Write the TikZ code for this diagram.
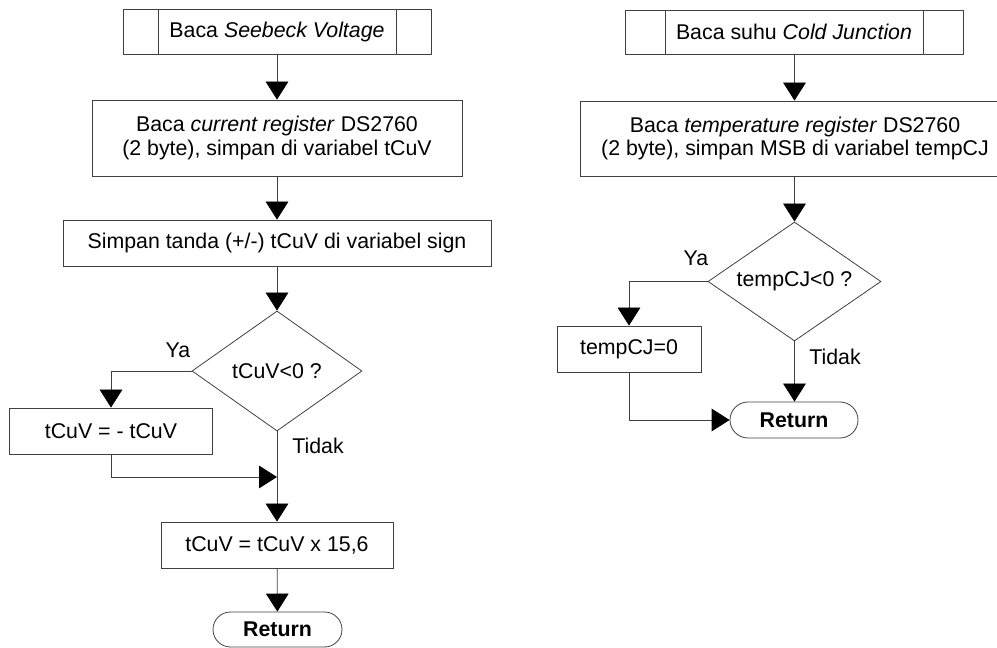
\documentclass[tikz,border=0pt]{standalone}
\usepackage{fontspec}
\setmainfont{Liberation Sans}
\usetikzlibrary{shapes.geometric,shapes.misc,arrows.meta,calc}
\begin{document}
\begin{tikzpicture}[x=0.75pt,y=-0.75pt,
  every node/.style={font=\fontsize{16}{17.5}\selectfont, inner sep=0pt, align=center},
  proc/.style={draw=black!75, line width=0.6pt, rectangle},
  predef/.style={proc},
  decis/.style={draw=black!75, line width=0.6pt, diamond, aspect=1.42},
  term/.style={draw=black!75, line width=0.6pt, rounded rectangle, font=\fontsize{16}{17.5}\selectfont\bfseries},
  lbl/.style={},
  conn/.style={draw=black!75, line width=0.6pt},
  arr/.style={conn, -{Triangle[length=13.5pt,width=17pt,color=black]}}
]
\useasboundingbox (0,0) rectangle (997,648);

% ---------- left column ----------
\node[predef, minimum width=308*0.75pt, minimum height=45*0.75pt] (p1) at (277,31.5) {Baca \textit{Seebeck Voltage}};
\draw[conn] ($(p1.north west)+(36,0)$) -- ($(p1.south west)+(36,0)$);
\draw[conn] ($(p1.north east)+(-35,0)$) -- ($(p1.south east)+(-35,0)$);

\node[proc, minimum width=370*0.75pt, minimum height=76*0.75pt] (b1) at (277,138)
  {Baca \textit{current register} DS2760\\(2 byte), simpan di variabel tCuV};
\node[proc, minimum width=428*0.75pt, minimum height=46*0.75pt] (b2) at (277,243)
  {Simpan tanda (+/-) tCuV di variabel sign};
\node[decis, minimum width=170*0.75pt, minimum height=120*0.75pt] (d1) at (277,371) {tCuV<0 ?};
\node[proc, minimum width=203*0.75pt, minimum height=46*0.75pt] (b3) at (111,431) {tCuV = - tCuV};
\coordinate (j1) at (277,477);
\node[proc, minimum width=232*0.75pt, minimum height=46*0.75pt] (b4) at (277,545) {tCuV = tCuV x 15,6};
\node[term, minimum width=129*0.75pt, minimum height=35*0.75pt] (r1) at (277.5,629.5) {Return};

\node[lbl] (ya1) at (178,350) {Ya};
\node[lbl] (td1) at (318,446) {Tidak};

\draw[arr] (p1) -- (b1);
\draw[arr] (b1) -- (b2);
\draw[arr] (b2) -- (d1);
\draw[arr] (d1.west) -| (b3.north);
\draw[arr] (b3.south) |- (j1);
\draw[arr] (d1.south) -- (b4.north);
\draw[arr] (b4) -- (r1);

% ---------- right column ----------
\node[predef, minimum width=338*0.75pt, minimum height=44*0.75pt] (p2) at (794,32) {Baca suhu \textit{Cold Junction}};
\draw[conn] ($(p2.north west)+(41,0)$) -- ($(p2.south west)+(41,0)$);
\draw[conn] ($(p2.north east)+(-40,0)$) -- ($(p2.south east)+(-40,0)$);

\node[proc, minimum width=430*0.75pt, minimum height=75*0.75pt] (b5) at (795,138.5)
  {Baca \textit{temperature register} DS2760\\(2 byte), simpan MSB di variabel tempCJ};
\node[decis, minimum width=173*0.75pt, minimum height=119*0.75pt] (d2) at (794.5,281.5) {tempCJ<0 ?};
\node[proc, minimum width=144*0.75pt, minimum height=46*0.75pt] (b6) at (629,349) {tempCJ=0};
\node[term, minimum width=128*0.75pt, minimum height=36*0.75pt] (r2) at (794,420) {Return};

\node[lbl] (ya2) at (696,258) {Ya};
\node[lbl] (td2) at (835,357) {Tidak};

\draw[arr] (p2.south -| d2.north) -- (b5.north -| d2.north);
\draw[arr] (b5.south -| d2.north) -- (d2.north);
\draw[arr] (d2.west) -| (b6.north);
\draw[arr] (d2.south) -- (r2.north -| d2.south);
\draw[arr] (b6.south) |- (r2.west);
\end{tikzpicture}
\end{document}
